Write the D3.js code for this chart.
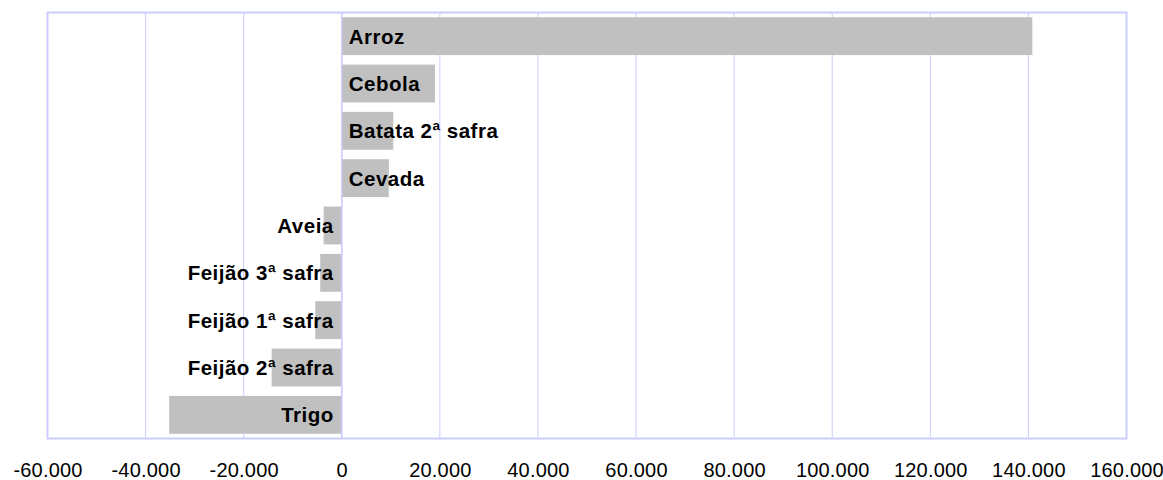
<!DOCTYPE html>
<html>
<head>
<meta charset="utf-8">
<script src="https://cdn.jsdelivr.net/npm/d3@7"></script>
<style>
  body { margin: 0; background: #fff; }
  svg { display: block; font-family: "Liberation Sans", Arial, sans-serif; }
</style>
</head>
<body>
<div id="chart"></div>
<script>
// Categories, top to bottom
const categories = ["Arroz", "Cebola", "Batata 2ª safra", "Cevada", "Aveia",
  "Feijão 3ª safra", "Feijão 1ª safra", "Feijão 2ª safra", "Trigo"];
const values = [140800, 19000, 10500, 9600, -3700, -4400, -5400, -14300, -35200];
const tickValues = [-60000, -40000, -20000, 0, 20000, 40000, 60000, 80000, 100000, 120000, 140000, 160000];
const tickLabels = ["-60.000", "-40.000", "-20.000", "0", "20.000", "40.000", "60.000",
  "80.000", "100.000", "120.000", "140.000", "160.000"];

const width = 1163;
const height = 480;
const margin = {top: 12.5, right: 36.5, bottom: 41.5, left: 47.5};

const svg = d3.select("#chart")
  .append("svg")
  .attr("width", width)
  .attr("height", height);

const x = d3.scaleLinear()
  .domain([-60000, 160000])
  .range([margin.left, width - margin.right]);

const y = d3.scaleBand()
  .domain(categories)
  .range([margin.top, height - margin.bottom])
  .paddingInner(0.2)
  .paddingOuter(0.1);

// Grid lines
svg.append("g")
  .selectAll("line")
  .data(tickValues)
  .enter()
  .append("line")
  .attr("x1", d => x(d))
  .attr("x2", d => x(d))
  .attr("y1", margin.top)
  .attr("y2", height - margin.bottom)
  .attr("stroke", "#ccccff")
  .attr("stroke-width", 1);

// Bars
const data = categories.map((c, i) => ({name: c, value: values[i]}));

svg.append("g")
  .selectAll("rect")
  .data(data)
  .enter()
  .append("rect")
  .attr("x", d => x(Math.min(0, d.value)))
  .attr("y", d => y(d.name))
  .attr("width", d => Math.abs(x(d.value) - x(0)))
  .attr("height", y.bandwidth())
  .attr("fill", "#c0c0c0");

// Zero line
svg.append("line")
  .attr("x1", x(0)).attr("x2", x(0))
  .attr("y1", margin.top).attr("y2", height - margin.bottom)
  .attr("stroke", "#ccccff")
  .attr("stroke-width", 1.5);

// Plot border
svg.append("rect")
  .attr("x", margin.left)
  .attr("y", margin.top)
  .attr("width", width - margin.left - margin.right)
  .attr("height", height - margin.top - margin.bottom)
  .attr("fill", "none")
  .attr("stroke", "#ccccff")
  .attr("stroke-width", 2);

// Bar labels
svg.append("g")
  .selectAll("text")
  .data(data)
  .enter()
  .append("text")
  .attr("x", d => d.value >= 0 ? x(0) + 7 : x(0) - 8)
  .attr("y", d => y(d.name) + y.bandwidth() / 2 + 7.5)
  .attr("text-anchor", d => d.value >= 0 ? "start" : "end")
  .attr("font-size", "20.5px")
  .attr("font-weight", "bold")
  .attr("letter-spacing", "0.5px")
  .attr("fill", "#000")
  .text(d => d.name);

// X axis
const xAxis = svg.append("g")
  .attr("transform", `translate(0, ${height - margin.bottom})`)
  .call(d3.axisBottom(x)
    .tickValues(tickValues)
    .tickFormat((d, i) => tickLabels[i])
    .tickSize(0)
    .tickPadding(24));

xAxis.select(".domain").remove();
xAxis.selectAll("text")
  .attr("font-family", "'Liberation Sans', Arial, sans-serif")
  .attr("font-size", "20px")
  .attr("letter-spacing", "0.2px")
  .attr("fill", "#000");
</script>
</body>
</html>
